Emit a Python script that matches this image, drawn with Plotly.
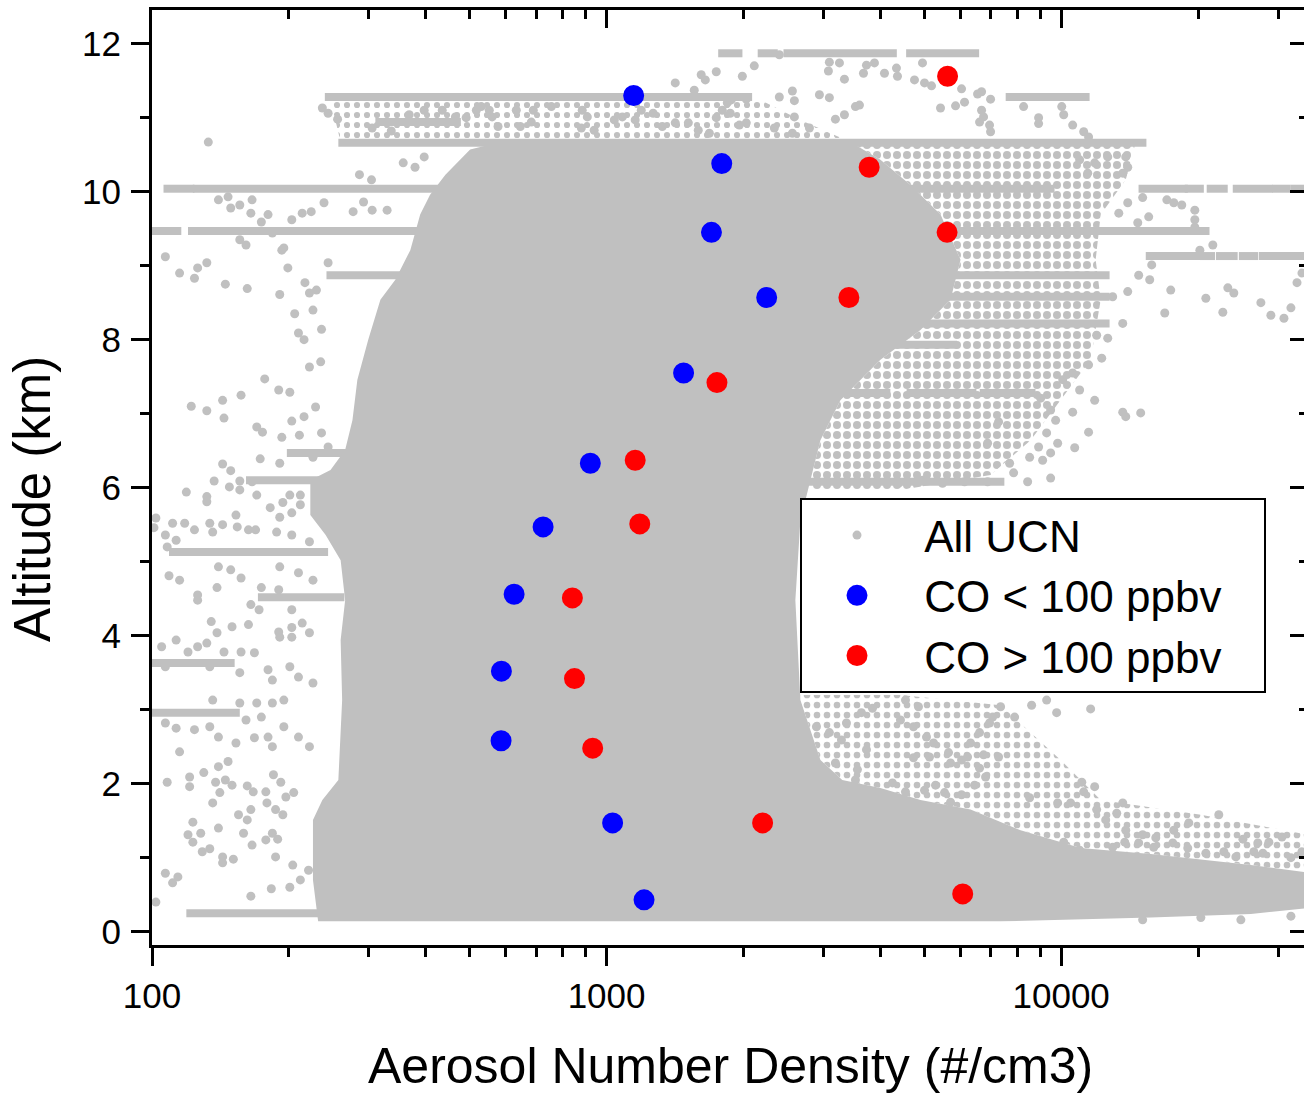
import plotly.graph_objects as go

# ---------------- CO-segregated mean profiles ----------------
co_low_x = [1147, 1792, 1701, 2250, 1477, 921, 725, 626, 587, 586, 1031, 1209]
co_low_y = [11.30, 10.38, 9.45, 8.57, 7.55, 6.33, 5.47, 4.56, 3.52, 2.58, 1.47, 0.43]
co_high_x = [5625, 3781, 5611, 3412, 1749, 1156, 1183, 841, 850, 932, 2204, 6073]
co_high_y = [11.56, 10.33, 9.45, 8.57, 7.42, 6.37, 5.51, 4.51, 3.42, 2.48, 1.47, 0.51]

# ---------------- All UCN: individual (sparse) samples ----------------
ucn_left_low = [
    (108, 2.02), (121, 2.09), (121, 1.96), (130, 2.15), (138, 2.02), (140, 2.23), (147, 2.30),
    (145, 2.05), (150, 1.98), (162, 1.97), (167, 1.89), (178, 1.89), (185, 2.12), (192, 2.02),
    (197, 1.82), (205, 1.88), (179, 1.74), (187, 1.65), (194, 1.58), (165, 1.65), (155, 1.58),
    (162, 1.51), (141, 1.88), (136, 1.74), (123, 1.48), (128, 1.33), (120, 1.31), (123, 1.21),
    (140, 1.40), (159, 1.33), (166, 1.17), (178, 1.24), (184, 1.33), (189, 1.25), (187, 1.01),
    (151, 0.98), (143, 1.01), (143, 0.93), (134, 1.12), (129, 1.08), (204, 0.90), (212, 0.70),
    (221, 0.83), (201, 0.60), (183, 0.58), (165, 0.48), (107, 0.79), (111, 0.66), (114, 0.74),
    (102, 0.40),
]
ucn_left_mid = [
    (119, 5.94), (132, 5.88), (132, 5.81), (137, 6.09), (156, 6.09), (148, 6.01), (156, 5.97),
    (166, 6.08), (170, 5.90), (182, 5.73), (194, 5.80), (201, 5.90), (212, 5.90), (212, 5.77),
    (153, 5.63), (143, 5.50), (134, 5.52), (124, 5.43), (118, 5.52), (111, 5.52), (107, 5.36),
    (102, 5.59), (101, 5.46), (113, 5.29), (108, 5.20), (136, 5.40), (154, 5.47), (163, 5.43),
    (169, 5.43), (188, 5.40), (203, 5.36), (191, 5.60), (203, 5.66), (222, 5.27),
    (140, 4.93), (149, 4.89), (157, 4.78), (191, 4.93), (210, 4.85), (226, 4.75), (109, 4.81),
    (115, 4.75), (139, 4.65), (126, 4.55), (126, 4.48), (174, 4.65), (190, 4.62), (165, 4.42),
    (172, 4.35), (203, 4.35), (135, 4.19), (150, 4.12), (139, 4.04), (163, 4.15), (190, 4.05),
    (203, 4.11), (214, 4.17), (222, 4.04), (113, 3.94), (105, 3.85), (120, 3.78), (126, 3.85),
    (132, 3.90), (144, 3.78), (157, 3.78), (168, 3.77), (191, 3.98), (203, 3.98), (107, 3.58),
    (134, 3.58), (156, 3.50), (180, 3.54), (201, 3.58), (184, 3.40), (210, 3.44), (226, 3.36),
    (136, 3.13), (156, 3.09), (170, 3.09), (184, 3.09), (195, 3.13), (107, 2.82), (113, 2.75),
    (124, 2.73), (134, 2.77), (140, 2.63), (161, 2.86), (174, 2.90), (180, 2.63), (195, 2.77),
    (210, 2.63), (222, 2.50), (115, 2.43), (153, 2.55), (168, 2.62), (184, 2.50),
]
ucn_left_high = [
    (133, 10.67), (305, 10.86), (336, 10.82), (237, 11.13), (244, 11.06), (256, 10.98),
    (286, 10.23), (304, 10.16), (357, 10.39), (379, 10.33), (397, 10.47),
    (140, 9.89), (147, 9.93), (149, 9.78), (156, 9.82), (166, 9.89), (165, 9.71), (174, 9.59),
    (180, 9.69), (203, 9.62), (214, 9.71), (224, 9.73), (239, 9.85), (277, 9.73), (292, 9.86),
    (305, 9.75), (329, 9.75), (107, 9.12), (115, 8.90), (124, 8.83), (126, 8.97), (132, 9.04),
    (145, 8.75), (162, 8.69), (191, 8.61), (199, 8.97), (195, 9.24), (156, 9.35), (161, 9.28),
    (184, 9.44), (193, 9.21), (244, 9.04), (210, 8.09), (216, 8.00), (206, 8.35), (236, 8.14),
    (226, 8.40), (217, 8.77), (230, 8.67), (222, 8.63), (177, 7.47), (190, 7.32), (201, 7.29),
    (222, 7.63), (235, 7.70), (157, 7.25), (143, 7.18), (122, 7.10), (132, 7.04), (144, 6.94),
    (170, 6.82), (175, 6.75), (193, 6.68), (211, 6.71), (203, 6.90), (216, 6.96), (229, 7.09),
    (236, 6.74), (143, 6.32), (149, 6.23), (173, 6.39), (191, 6.33), (226, 6.41), (244, 6.55),
]
ucn_top = [
    (368, 11.04), (397, 11.10), (435, 11.10), (465, 11.01), (491, 11.00), (517, 11.10),
    (530, 11.15), (552, 11.10), (560, 11.01), (577, 10.88), (633, 11.10), (646, 10.88),
    (683, 10.94), (690, 11.10), (756, 11.15), (884, 11.10), (907, 11.01), (880, 10.86),
    (939, 10.83), (1040, 10.97), (1083, 11.01), (1156, 10.97), (1192, 11.10), (1266, 11.06),
    (1326, 10.88), (1416, 10.93), (1513, 10.93), (1591, 10.83), (1683, 10.79), (1743, 11.00),
    (1797, 11.10), (1843, 11.20), (1416, 11.47), (1559, 11.37), (1615, 11.58), (1649, 11.51),
    (1743, 11.62), (1989, 11.56), (2113, 11.70), (2399, 11.85), (3091, 11.75), (3253, 11.74),
    (3076, 11.63), (3336, 11.52), (3674, 11.60), (3730, 11.71), (3884, 11.74), (4086, 11.60),
    (4342, 11.67), (4364, 11.56), (4757, 11.51), (4954, 11.74), (5005, 11.47), (5186, 11.43),
    (6038, 11.39), (6548, 11.32), (6682, 11.35), (6994, 11.25), (5428, 11.13), (5857, 11.16),
    (6130, 11.21), (6682, 11.10), (6750, 11.01), (6614, 10.94), (6958, 10.90), (6994, 10.81),
    (2399, 11.28), (2563, 11.36), (2589, 11.23), (2939, 11.31), (3091, 11.27), (3527, 11.15),
    (3600, 11.17), (3336, 11.04), (3187, 10.98), (2589, 11.01), (2794, 10.86), (2339, 10.86),
    (2563, 10.79), (2029, 10.93), (1959, 10.90), (1871, 11.06), (1880, 11.24), (2029, 11.25),
    (8267, 11.15), (8920, 11.00), (8920, 10.92), (10030, 11.15), (10130, 11.04), (10600, 10.90),
    (11210, 10.81), (11490, 10.74),
]
ucn_right_high = [
    (13870, 10.47), (14010, 10.33), (13660, 10.25), (12660, 10.47), (11850, 10.39),
    (11440, 10.25), (10980, 10.43), (14010, 9.85), (15110, 9.92), (17080, 9.89), (17690, 9.85),
    (18420, 9.82), (19680, 9.75), (19680, 9.62), (19680, 9.52), (15580, 9.66), (14740, 9.58),
    (13390, 9.71), (21560, 9.28), (20190, 9.21), (15820, 9.01), (15660, 8.81), (14810, 8.87),
    (14010, 8.65), (17420, 8.67), (16900, 8.36), (20810, 8.56), (22680, 8.37), (23260, 8.70),
    (23980, 8.63), (27500, 8.50), (28930, 8.33), (30910, 8.29), (32020, 8.43), (33020, 8.77),
    (33860, 8.90), (12980, 8.58), (13660, 8.22), (12660, 8.02), (11970, 8.06), (11490, 7.66),
    (12280, 7.75), (13660, 7.02), (13870, 6.96), (14960, 7.01), (10600, 7.02), (11490, 6.75),
    (11850, 7.18), (10080, 7.46), (10600, 7.55), (10980, 7.32), (9724, 6.91), (9012, 7.21),
    (9481, 7.05), (9291, 6.74), (9824, 6.60), (10710, 6.54), (8920, 6.55), (9481, 6.47),
    (8524, 6.41), (7702, 6.33), (7284, 6.89), (6889, 6.60), (9104, 6.37),
    (7860, 6.20), (8438, 6.08), (9481, 6.13), (6889, 6.08), (6130, 6.08), (5483, 6.06),
    (4954, 6.10), (4386, 6.06),
]
ucn_right_low = [
    (4545, 3.13), (4854, 3.04), (4431, 2.86), (4733, 2.77), (5055, 2.63), (5239, 2.55),
    (5133, 2.36), (5652, 2.42), (5710, 2.28), (6038, 2.32), (6320, 2.55), (6614, 2.69),
    (6958, 2.82), (7066, 2.90), (7358, 3.04), (7900, 2.90), (8610, 3.06), (9291, 3.13),
    (9774, 2.96), (11610, 3.01), (6224, 2.36), (6750, 2.39), (7284, 2.36), (6614, 2.21),
    (6819, 2.09), (6449, 1.98), (6038, 1.85), (5710, 1.75), (5539, 1.88), (5292, 1.98),
    (5005, 1.91), (4733, 2.35), (4255, 2.01), (4545, 1.89), (3730, 2.46), (3563, 2.19),
    (3527, 2.05), (3187, 2.28), (3286, 2.59), (3091, 2.69), (3370, 2.82), (3636, 2.96),
    (3845, 3.02), (2895, 2.77), (2696, 2.32), (2895, 2.28),
    (11100, 2.02), (11210, 1.89), (11850, 1.96), (9824, 1.74), (10490, 1.74), (8524, 1.81),
    (13660, 1.74), (11970, 1.65), (12530, 1.51), (13250, 1.60), (13870, 1.37), (15110, 1.31),
    (16150, 1.27), (17690, 1.37), (19090, 1.47), (22220, 1.58), (25110, 1.25), (27080, 1.20),
    (28640, 1.21), (30600, 1.28), (32020, 1.00), (33860, 1.08), (27780, 1.06), (26540, 1.08),
    (24230, 1.01), (22800, 1.08), (20810, 1.06), (18990, 1.13), (17600, 1.20), (15980, 1.14),
    (14810, 1.20), (13800, 1.21), (12980, 1.14), (10130, 1.21), (10980, 1.10),
    (15110, 0.16), (20290, 0.19), (24850, 0.16), (32020, 0.21),
]

core_x = [232, 226, 226, 237, 257, 262, 260, 266, 260, 241, 223, 223, 247, 266, 276, 283, 299,
          318, 343, 370, 389, 409, 442, 501, 584, 3439, 4004, 4662, 5428, 6007, 5710, 4904, 4004,
          3269, 2954, 2808, 2669, 2602, 2669, 2954, 3300, 4004, 4904, 6320, 8143, 11040, 15740,
          26140, 35000, 35000, 26140, 15740, 7358, 232]
core_y = [0.14, 0.70, 1.51, 1.78, 2.05, 3.13, 3.94, 4.48, 5.02, 5.36, 5.63, 6.10, 6.24, 6.51,
          6.91, 7.46, 8.00, 8.54, 8.81, 9.21, 9.69, 9.96, 10.23, 10.57, 10.67, 10.67, 10.43,
          10.09, 9.69, 9.08, 8.54, 8.13, 7.73, 7.18, 6.64, 6.10, 5.56, 4.48, 3.13, 2.32, 2.05,
          1.94, 1.78, 1.65, 1.37, 1.13, 1.05, 0.90, 0.80, 0.32, 0.24, 0.19, 0.14, 0.14]
# medium-density zones
halo_x = [3439, 14590, 13870, 12220, 11910, 12220, 11610, 9974, 8567, 6994, 4431, 2836, 2808,
          2954, 3269, 4004, 4904, 5710, 6007, 5428, 4662, 4004, 3439]
halo_y = [10.67, 10.67, 10.16, 9.69, 9.08, 8.54, 7.73, 7.18, 6.64, 6.17, 5.97, 5.97, 6.10,
          6.64, 7.18, 7.73, 8.13, 8.54, 9.08, 9.69, 10.09, 10.43, 10.67]
halo_low_x = [2669, 4431, 7358, 9974, 12220, 20290, 35000, 35000, 26140, 15740, 11040, 8143,
              6320, 4904, 4004, 3300, 2954, 2669, 2669]
halo_low_y = [3.20, 3.20, 3.06, 2.32, 1.78, 1.58, 1.31, 0.80, 0.90, 1.05, 1.13, 1.37,
              1.65, 1.78, 1.94, 2.05, 2.32, 3.13, 3.20]
halo_top_x = [260, 3439, 2669, 2179, 247, 260]
halo_top_y = [10.67, 10.67, 10.97, 11.24, 11.24, 10.67]

# constant-altitude flight legs (streaks of samples)
streak_alt = [11.87, 11.87, 11.87, 11.87, 11.28, 11.28, 10.94, 10.66,
              10.04, 10.04, 10.04, 10.04, 10.04, 10.04, 10.04, 10.04,
              9.47, 9.47, 9.13, 9.13, 9.13, 9.13, 9.13, 8.87, 8.58, 8.22, 7.93,
              7.28, 7.28, 7.28, 7.28, 7.28, 6.08, 6.47, 6.10, 5.13, 4.52, 3.63, 2.96, 0.25]
streak_x0 = [1760, 2150, 2450, 4560, 240, 7550, 310, 257,
             106, 123, 14800, 18700, 20900, 23850, 29100, 32000,
             98, 120, 15350, 20200, 21900, 24600, 27200, 242, 3300, 1600, 3850,
             2900, 4570, 5680, 6620, 7820, 2620, 198, 161, 109, 171, 99, 99, 119]
streak_x1 = [1990, 2380, 4350, 6600, 2090, 11550, 478, 15400,
             124, 9670, 19000, 20600, 23250, 29200, 32000, 35000,
             116, 21200, 20400, 21800, 24450, 27100, 35000, 12780, 12780, 12780, 5900,
             4210, 5700, 6510, 8020, 8780, 7500, 271, 252, 244, 265, 152, 156, 7500]

# ---------------- axes ----------------
x_range_decades = [2, 4.5342]
y_range = [-0.18, 12.455]
y_major = [0, 2, 4, 6, 8, 10, 12]
y_minor = [1, 3, 5, 7, 9, 11]
x_major = [100, 1000, 10000]
x_major_text = ["100", "1000", "10000"]
x_minor = [200, 300, 400, 500, 600, 700, 800, 900, 2000, 3000, 4000, 5000, 6000, 7000,
           8000, 9000, 20000, 30000]

legend_names = ["All UCN", "CO &lt; 100 ppbv", "CO &gt; 100 ppbv"]

GREY = "#c0c0c0"
FONT = "Liberation Sans, Arial, Helvetica, sans-serif"
NB = "\u00a0"

ucn_all = ucn_left_low + ucn_left_mid + ucn_left_high + ucn_top + ucn_right_high + ucn_right_low
ucn_x = [p[0] for p in ucn_all]
ucn_y = [p[1] for p in ucn_all]

sx, sy = [], []
for a, x0, x1 in zip(streak_alt, streak_x0, streak_x1):
    sx += [x0, x1, None]
    sy += [a, a, None]

fig = go.Figure()


def add_zone(xs, ys, solidity):
    fig.add_trace(go.Scatter(x=xs, y=ys, mode="lines", fill="toself",
                             fillpattern=dict(shape=".", fgcolor=GREY, size=10,
                                              solidity=solidity, fillmode="replace"),
                             fillcolor="rgba(0,0,0,0)",
                             line=dict(width=0, color=GREY), showlegend=False,
                             hoverinfo="skip"))


add_zone(halo_low_x, halo_low_y, 0.35)
add_zone(halo_top_x, halo_top_y, 0.3)
fig.add_trace(go.Scatter(x=core_x, y=core_y, mode="lines", fill="toself", fillcolor=GREY,
                         line=dict(width=0, color=GREY), showlegend=False, hoverinfo="skip"))
add_zone(halo_x, halo_y, 0.5)
fig.add_trace(go.Scatter(x=sx, y=sy, mode="lines", line=dict(width=8, color=GREY),
                         showlegend=False, hoverinfo="skip", connectgaps=False))
fig.add_trace(go.Scatter(x=ucn_x, y=ucn_y, mode="markers", name=NB + legend_names[0],
                         marker=dict(size=9, color=GREY)))
fig.add_trace(go.Scatter(x=co_low_x, y=co_low_y, mode="markers",
                         name=NB + legend_names[1] + NB * 3,
                         marker=dict(size=16, color="#0000ff", line=dict(width=5, color="#0000ff"))))
fig.add_trace(go.Scatter(x=co_high_x, y=co_high_y, mode="markers",
                         name=NB + legend_names[2] + NB * 3,
                         marker=dict(size=16, color="#ff0000", line=dict(width=5, color="#ff0000"))))
# helper trace so the mirrored (top / right) axes are drawn
fig.add_trace(go.Scatter(x=[None], y=[None], xaxis="x2", yaxis="y2", showlegend=False,
                         hoverinfo="skip"))

tick_common = dict(showgrid=False, zeroline=False, linecolor="black", tickcolor="black",
                   tickwidth=3, linewidth=3)

fig.update_layout(
    width=1304, height=1095,
    margin=dict(l=152, r=0, t=10, b=150),
    paper_bgcolor="white", plot_bgcolor="white",
    font=dict(family=FONT, color="black"),
    showlegend=True,
    legend=dict(x=(800 - 152) / 1152, y=(945 - 498) / 935, xanchor="left", yanchor="top",
                bgcolor="white", bordercolor="black", borderwidth=2,
                font=dict(size=44, family=FONT, color="black"), itemwidth=100,
                tracegroupgap=0),
    xaxis=dict(type="log", range=x_range_decades, showline=True, ticks="outside", ticklen=18,
               tickvals=x_major, ticktext=x_major_text, tickfont=dict(size=35, family=FONT),
               minor=dict(tickvals=x_minor, ticks="outside", ticklen=9, tickwidth=3,
                          tickcolor="black"),
               **tick_common),
    xaxis2=dict(type="log", range=x_range_decades, overlaying="x", side="top", showline=True,
                ticks="inside", ticklen=18, tickvals=x_major, showticklabels=False,
                minor=dict(tickvals=x_minor, ticks="inside", ticklen=9, tickwidth=3,
                           tickcolor="black"),
                **tick_common),
    yaxis=dict(range=y_range, showline=True, ticks="outside", ticklen=18, tickvals=y_major,
               tickfont=dict(size=35, family=FONT), ticklabelstandoff=3,
               minor=dict(tickvals=y_minor, ticks="outside", ticklen=9, tickwidth=3,
                          tickcolor="black"),
               **tick_common),
    yaxis2=dict(range=y_range, overlaying="y", side="right", showline=False, ticks="inside",
                ticklen=14, tickvals=y_major, showticklabels=False,
                minor=dict(tickvals=y_minor, ticks="inside", ticklen=5, tickwidth=3,
                           tickcolor="black"),
                showgrid=False, zeroline=False, tickcolor="black", tickwidth=3),
    annotations=[
        dict(text="Aerosol Number Density (#/cm3)", xref="paper", yref="paper",
             x=(730 - 152) / 1152, y=(945 - 1066) / 935, xanchor="center", yanchor="middle",
             showarrow=False, font=dict(size=50, family=FONT, color="black")),
        dict(text="Altitude (km)", xref="paper", yref="paper",
             x=(33 - 152) / 1152, y=(945 - 499) / 935, xanchor="center", yanchor="middle",
             textangle=-90, showarrow=False, font=dict(size=51, family=FONT, color="black")),
    ],
)

fig.write_html("out.html")
